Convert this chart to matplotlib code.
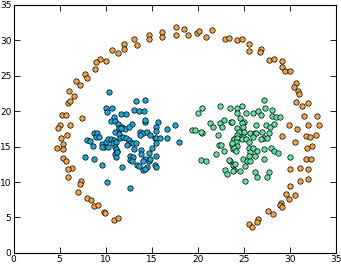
import matplotlib
matplotlib.use('Agg')
import matplotlib.pyplot as plt
import numpy as np

# orange ring (x, y)
ring_x = [10.7, 11.3, 9.4, 8.9, 10.0, 8.8, 7.8, 8.0, 6.8, 7.2, 6.0, 6.6, 5.9, 6.1,
          5.3, 5.7, 7.4, 6.1, 5.0, 4.8, 5.1, 5.8, 5.4, 4.7, 5.4, 5.35, 5.7, 6.4,
          5.9, 5.9, 7.3, 7.25, 7.0, 8.0, 8.4, 8.7, 9.15, 9.8, 9.9, 10.9, 11.3,
          11.95, 11.95, 13.1, 13.45, 14.7, 14.7, 16.1, 16.1, 17.65, 17.6, 18.5,
          18.9, 19.9, 20.1, 20.9, 21.55, 23.0, 23.4, 24.2, 24.8, 25.6, 25.6,
          26.9, 26.75, 27.7, 28.3, 29.1, 29.15, 29.5, 30.05, 30.7, 30.4, 30.9,
          31.0, 30.7, 31.3, 31.9, 31.5, 32.9, 29.9, 31.9, 33.1, 30.8, 29.15,
          31.7, 32.2, 32.85, 30.5, 31.8, 32.4, 31.7, 32.3, 30.0, 31.1, 32.0,
          32.0, 31.05, 30.05, 29.6, 29.85, 30.5, 29.0, 28.95, 29.1, 27.6, 28.2,
          26.55, 26.4, 25.5, 25.9]
ring_y = [28.6, 28.2, 27.4, 26.9, 27.1, 26.0, 25.3, 24.6, 24.2, 23.7, 22.8, 22.2,
          21.2, 21.4, 19.5, 19.4, 19.0, 18.0, 18.0, 17.6, 16.2, 16.7, 15.4, 14.8,
          14.6, 13.4, 13.0, 12.0, 11.8, 10.7, 10.1, 9.7, 8.6, 7.7, 7.5, 6.6, 6.8,
          5.7, 5.6, 4.65, 4.97, 29.5, 28.7, 30.1, 29.3, 30.8, 30.1, 31.2, 30.4,
          31.8, 30.8, 31.6, 30.7, 30.95, 31.3, 30.4, 31.4, 30.1, 30.3, 30.0,
          30.1, 29.4, 28.5, 28.8, 28.3, 27.2, 27.4, 27.0, 26.2, 25.6, 25.6,
          24.0, 23.35, 22.9, 22.4, 21.3, 20.7, 21.2, 19.3, 19.3, 18.0, 18.0,
          18.0, 17.5, 16.5, 16.5, 16.4, 16.6, 15.6, 14.75, 15.1, 13.3, 13.2,
          11.8, 12.0, 11.9, 10.4, 10.2, 9.5, 8.3, 7.6, 8.2, 7.1, 6.8, 6.5, 5.9,
          5.45, 4.75, 4.3, 4.1, 3.6]

# blue cluster
left_x = [10.4, 10.05, 10.1, 10.7, 11.7, 12.2, 13.1, 10.85, 10.6, 11.0, 11.3,
          12.85, 11.75, 11.5, 12.1, 12.5, 11.0, 11.4, 8.7, 9.1, 9.0, 9.3, 8.0,
          8.3, 8.6, 9.6, 10.05, 10.3, 10.55, 10.85, 10.8, 11.15, 9.8, 10.2,
          11.6, 11.9, 12.2, 12.5, 12.65, 12.3, 11.0, 11.2, 11.0, 11.15, 7.8,
          8.7, 12.65, 13.0, 12.6, 12.85, 9.6, 11.75, 10.1, 12.6, 13.3, 14.3,
          13.6, 14.2, 14.3, 14.3, 15.7, 15.5, 15.5, 16.65, 17.5, 13.75, 14.1,
          14.5, 14.8, 13.75, 15.3, 15.5, 15.85, 16.65, 15.5, 17.95, 12.95, 13.3,
          13.1, 13.8, 13.8, 15.0, 14.65, 15.5, 14.3, 14.1, 14.65, 14.85, 13.4,
          13.6, 14.5, 14.0, 14.3, 15.3, 15.5, 11.4, 11.65, 11.15, 9.6, 11.2]
left_y = [22.7, 20.45, 19.9, 20.4, 19.6, 19.6, 20.1, 19.2, 18.6, 18.6, 18.2,
          18.2, 17.8, 17.3, 17.5, 17.7, 17.1, 16.8, 16.9, 16.9, 16.3, 16.3,
          15.9, 15.8, 15.1, 15.4, 15.7, 16.0, 16.0, 15.9, 15.45, 15.7, 15.0,
          14.9, 16.15, 16.4, 16.15, 15.9, 15.45, 15.2, 15.0, 14.4, 14.0, 13.5,
          13.5, 13.3, 13.7, 13.5, 13.1, 12.9, 12.35, 12.15, 10.0, 9.1, 21.4,
          21.5, 20.0, 20.0, 18.4, 18.8, 18.4, 17.8, 17.2, 17.5, 18.0, 17.1,
          16.9, 17.0, 16.6, 16.6, 16.15, 16.15, 16.15, 16.15, 15.5, 15.6,
          15.45, 15.45, 14.7, 14.5, 14.0, 14.8, 14.1, 13.7, 13.2, 13.0, 12.9,
          13.3, 12.4, 12.3, 12.1, 11.7, 11.9, 12.4, 12.1, 17.6, 17.6, 14.7,
          14.9, 14.3]

# green cluster
right_x = [20.5, 20.0, 22.45, 23.5, 19.4, 19.7, 20.45, 21.3, 21.65, 22.45, 22.8,
           22.6, 23.6, 22.15, 22.3, 22.5, 22.0, 22.8, 23.7, 23.9, 23.8, 20.35,
           20.9, 23.45, 22.9, 23.2, 23.8, 23.9, 27.15, 24.3, 24.8, 27.3, 28.1,
           24.3, 25.2, 26.0, 26.5, 26.8, 28.05, 28.5, 28.9, 23.7, 24.6, 25.05,
           24.8, 26.35, 27.4, 27.8, 28.25, 24.3, 24.9, 24.5, 25.0, 24.3, 24.9,
           25.7, 26.15, 26.35, 26.0, 27.0, 27.7, 27.15, 27.5, 26.8, 23.9, 24.3,
           24.8, 25.2, 24.1, 23.7, 24.25, 23.9, 24.1, 25.5, 25.7, 26.0, 26.4,
           27.15, 27.95, 28.3, 28.7, 25.6, 26.15, 24.9, 25.35, 25.7, 27.15,
           24.0, 23.8, 24.55, 25.15, 26.25, 26.45, 25.1, 27.7, 30.0, 27.5,
           23.35, 20.3, 25.6]
right_y = [20.5, 19.8, 20.7, 20.4, 17.4, 17.4, 16.9, 18.3, 17.7, 18.3, 18.8,
           17.8, 18.5, 16.6, 15.2, 15.2, 14.0, 14.4, 15.2, 16.0, 14.6, 13.1,
           13.0, 13.0, 11.7, 11.2, 12.4, 11.7, 21.6, 20.5, 20.7, 20.5, 20.2,
           19.7, 19.8, 19.8, 20.0, 19.4, 19.3, 19.1, 19.1, 18.5, 19.0, 18.5,
           18.3, 18.1, 18.0, 17.7, 18.2, 17.6, 17.7, 17.1, 17.1, 16.6, 16.4,
           16.9, 16.9, 16.95, 16.4, 17.1, 16.9, 16.15, 16.15, 16.0, 16.0, 16.15,
           16.0, 16.0, 15.7, 15.5, 15.1, 14.75, 14.4, 14.75, 14.3, 14.75, 14.4,
           14.6, 14.75, 14.4, 14.1, 13.6, 13.6, 13.2, 12.9, 13.0, 13.2, 12.5,
           11.55, 11.55, 12.25, 11.45, 10.65, 10.2, 11.45, 13.5, 10.75, 13.1,
           17.0, 15.6]

plt.rcParams['font.size'] = 6.5

fig = plt.figure(figsize=(3.41, 2.64), dpi=100)
ax = fig.add_axes([0.0396, 0.042, 0.946, 0.940])

ax.scatter(ring_x, ring_y, s=15, c='#f5a243', edgecolors='k', linewidths=0.5)
ax.scatter(left_x, left_y, s=15, c='#1aa8d8', edgecolors='k', linewidths=0.5)
ax.scatter(right_x, right_y, s=15, c='#62e2a2', edgecolors='k', linewidths=0.5)

ax.set_xlim(0, 35)
ax.set_ylim(0, 35)
ax.set_xticks(np.arange(0, 36, 5))
ax.set_yticks(np.arange(0, 36, 5))
ax.tick_params(direction='in', top=True, right=True, length=4, width=0.6, pad=1.5)
for sp in ax.spines.values():
    sp.set_linewidth(0.8)

fig.savefig('out.png', dpi=100)
